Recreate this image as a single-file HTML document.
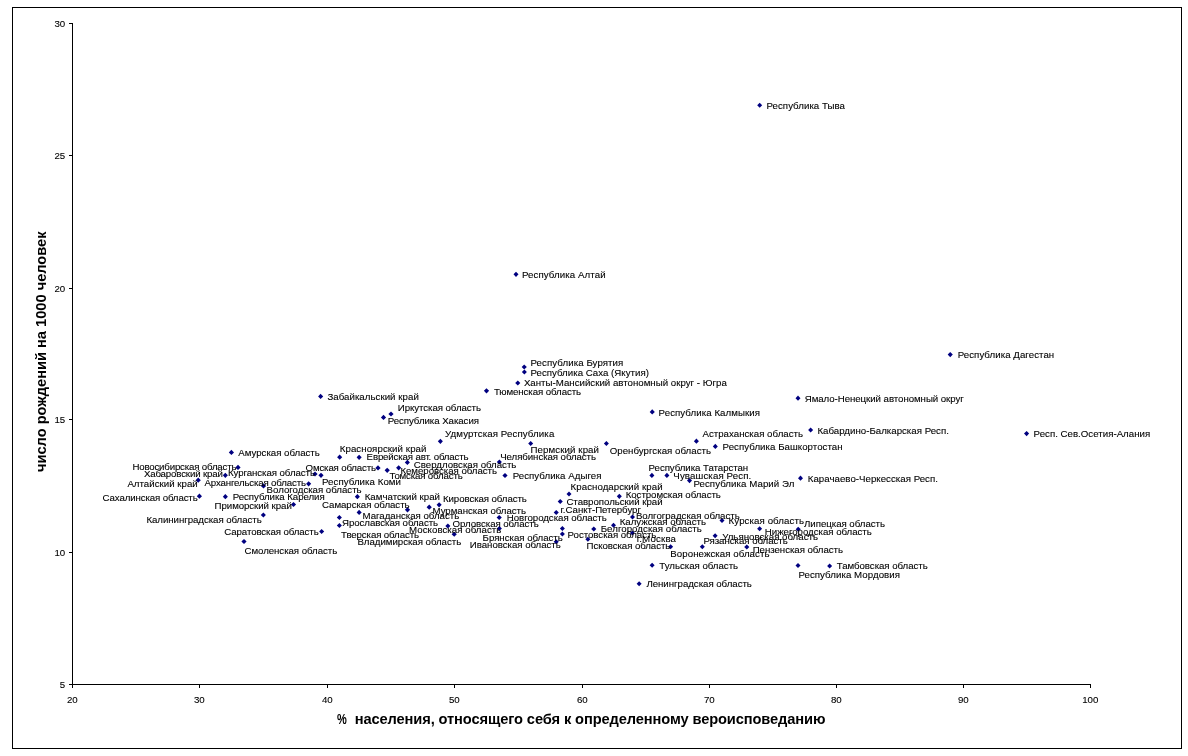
<!DOCTYPE html>
<html lang="ru"><head><meta charset="utf-8"><title>Scatter</title>
<style>
html,body{margin:0;padding:0;background:#fff;}
body{width:1188px;height:756px;overflow:hidden;}
svg{display:block;font-family:"Liberation Sans",sans-serif;}
.l{font-size:9.7px;fill:#000;stroke:#000;stroke-width:0.1px;}
.t{font-size:9.7px;fill:#000;stroke:#000;stroke-width:0.1px;}
.b{font-weight:bold;font-size:14.67px;fill:#000;}
.d{fill:#000080;}
</style></head><body>
<svg width="1188" height="756" viewBox="0 0 1188 756">
<rect x="0" y="0" width="1188" height="756" fill="#fff"/>
<rect x="12.5" y="7.5" width="1169" height="741" fill="none" stroke="#000" stroke-width="1"/>

<g stroke="#000" stroke-width="1" shape-rendering="crispEdges">
<line x1="72.5" y1="23.0" x2="72.5" y2="688.0"/>
<line x1="69.0" y1="684.5" x2="1091.0" y2="684.5"/>
<line x1="69.0" y1="23.5" x2="72.5" y2="23.5"/>
<line x1="69.0" y1="155.5" x2="72.5" y2="155.5"/>
<line x1="69.0" y1="288.5" x2="72.5" y2="288.5"/>
<line x1="69.0" y1="419.5" x2="72.5" y2="419.5"/>
<line x1="69.0" y1="552.5" x2="72.5" y2="552.5"/>
<line x1="69.0" y1="684.5" x2="72.5" y2="684.5"/>
<line x1="72.5" y1="684.5" x2="72.5" y2="688.0"/>
<line x1="199.5" y1="684.5" x2="199.5" y2="688.0"/>
<line x1="327.5" y1="684.5" x2="327.5" y2="688.0"/>
<line x1="454.5" y1="684.5" x2="454.5" y2="688.0"/>
<line x1="582.5" y1="684.5" x2="582.5" y2="688.0"/>
<line x1="709.5" y1="684.5" x2="709.5" y2="688.0"/>
<line x1="836.5" y1="684.5" x2="836.5" y2="688.0"/>
<line x1="963.5" y1="684.5" x2="963.5" y2="688.0"/>
<line x1="1090.5" y1="684.5" x2="1090.5" y2="688.0"/>
</g>
<text class="t" x="65.2" y="27" text-anchor="end">30</text>
<text class="t" x="65.2" y="159" text-anchor="end">25</text>
<text class="t" x="65.2" y="292" text-anchor="end">20</text>
<text class="t" x="65.2" y="423" text-anchor="end">15</text>
<text class="t" x="65.2" y="556" text-anchor="end">10</text>
<text class="t" x="65.2" y="688" text-anchor="end">5</text>
<text class="t" x="72.3" y="703" text-anchor="middle">20</text>
<text class="t" x="199.3" y="703" text-anchor="middle">30</text>
<text class="t" x="327.3" y="703" text-anchor="middle">40</text>
<text class="t" x="454.3" y="703" text-anchor="middle">50</text>
<text class="t" x="582.3" y="703" text-anchor="middle">60</text>
<text class="t" x="709.3" y="703" text-anchor="middle">70</text>
<text class="t" x="836.3" y="703" text-anchor="middle">80</text>
<text class="t" x="963.3" y="703" text-anchor="middle">90</text>
<text class="t" x="1090.3" y="703" text-anchor="middle">100</text>
<text class="b" transform="translate(45.5,472) rotate(-90)" textLength="240.6">число рождений на 1000 человек</text>
<text class="b" y="723.5"><tspan x="337" textLength="9.8" lengthAdjust="spacingAndGlyphs">%</tspan><tspan x="354.7" textLength="470.8">населения, относящего себя к определенному вероисповеданию</tspan></text>
<g class="d">
<path d="M759.7 102.8L762.2 105.3L759.7 107.8L757.2 105.3Z"/>
<path d="M516.0 271.8L518.5 274.3L516.0 276.9L513.5 274.3Z"/>
<path d="M524.2 364.4L526.8 367.0L524.2 369.6L521.7 367.0Z"/>
<path d="M524.4 369.4L526.9 372.0L524.4 374.6L521.9 372.0Z"/>
<path d="M517.8 380.4L520.3 383.0L517.8 385.6L515.2 383.0Z"/>
<path d="M486.5 388.2L489.1 390.8L486.5 393.4L483.9 390.8Z"/>
<path d="M320.6 393.8L323.2 396.4L320.6 398.9L318.1 396.4Z"/>
<path d="M391.0 411.4L393.6 414.0L391.0 416.6L388.4 414.0Z"/>
<path d="M383.5 414.8L386.1 417.4L383.5 419.9L380.9 417.4Z"/>
<path d="M652.2 409.3L654.8 411.9L652.2 414.4L649.7 411.9Z"/>
<path d="M798.0 395.6L800.5 398.2L798.0 400.8L795.5 398.2Z"/>
<path d="M950.2 352.1L952.8 354.6L950.2 357.2L947.7 354.6Z"/>
<path d="M1026.6 431.1L1029.1 433.6L1026.6 436.2L1024.0 433.6Z"/>
<path d="M810.6 427.4L813.1 430.0L810.6 432.6L808.1 430.0Z"/>
<path d="M440.4 438.8L442.9 441.3L440.4 443.9L437.8 441.3Z"/>
<path d="M530.7 440.9L533.2 443.5L530.7 446.1L528.2 443.5Z"/>
<path d="M606.4 440.9L608.9 443.5L606.4 446.1L603.9 443.5Z"/>
<path d="M696.4 438.6L698.9 441.2L696.4 443.8L693.9 441.2Z"/>
<path d="M715.3 443.8L717.8 446.4L715.3 448.9L712.8 446.4Z"/>
<path d="M231.4 449.8L234.0 452.4L231.4 454.9L228.8 452.4Z"/>
<path d="M339.7 454.6L342.2 457.2L339.7 459.8L337.1 457.2Z"/>
<path d="M359.1 454.8L361.7 457.3L359.1 459.9L356.6 457.3Z"/>
<path d="M407.4 459.8L409.9 462.4L407.4 464.9L404.8 462.4Z"/>
<path d="M499.4 459.4L501.9 462.0L499.4 464.6L496.8 462.0Z"/>
<path d="M238.0 464.8L240.6 467.4L238.0 469.9L235.4 467.4Z"/>
<path d="M378.0 465.3L380.6 467.9L378.0 470.4L375.4 467.9Z"/>
<path d="M398.7 465.2L401.2 467.8L398.7 470.4L396.1 467.8Z"/>
<path d="M387.2 467.8L389.8 470.3L387.2 472.9L384.6 470.3Z"/>
<path d="M225.3 472.8L227.9 475.3L225.3 477.9L222.8 475.3Z"/>
<path d="M315.0 471.4L317.6 474.0L315.0 476.6L312.4 474.0Z"/>
<path d="M321.0 472.8L323.6 475.3L321.0 477.9L318.4 475.3Z"/>
<path d="M505.0 472.9L507.6 475.5L505.0 478.1L502.4 475.5Z"/>
<path d="M651.9 472.8L654.4 475.4L651.9 477.9L649.4 475.4Z"/>
<path d="M666.9 472.8L669.4 475.4L666.9 477.9L664.4 475.4Z"/>
<path d="M800.5 475.6L803.0 478.2L800.5 480.8L798.0 478.2Z"/>
<path d="M689.5 478.1L692.0 480.6L689.5 483.2L687.0 480.6Z"/>
<path d="M198.2 477.6L200.8 480.2L198.2 482.8L195.6 480.2Z"/>
<path d="M308.6 481.2L311.2 483.8L308.6 486.4L306.1 483.8Z"/>
<path d="M263.5 483.3L266.1 485.9L263.5 488.4L260.9 485.9Z"/>
<path d="M199.4 493.6L202.0 496.2L199.4 498.8L196.8 496.2Z"/>
<path d="M225.3 494.1L227.9 496.7L225.3 499.2L222.8 496.7Z"/>
<path d="M357.4 494.1L359.9 496.7L357.4 499.2L354.8 496.7Z"/>
<path d="M569.0 491.4L571.5 494.0L569.0 496.6L566.5 494.0Z"/>
<path d="M619.3 493.8L621.8 496.3L619.3 498.9L616.8 496.3Z"/>
<path d="M560.2 498.9L562.8 501.5L560.2 504.1L557.7 501.5Z"/>
<path d="M293.5 501.9L296.1 504.5L293.5 507.1L290.9 504.5Z"/>
<path d="M439.1 502.2L441.7 504.8L439.1 507.4L436.6 504.8Z"/>
<path d="M429.2 504.6L431.8 507.2L429.2 509.8L426.6 507.2Z"/>
<path d="M407.5 507.2L410.1 509.8L407.5 512.4L404.9 509.8Z"/>
<path d="M359.1 509.8L361.7 512.4L359.1 514.9L356.6 512.4Z"/>
<path d="M556.2 510.1L558.8 512.6L556.2 515.1L553.7 512.6Z"/>
<path d="M263.4 512.5L265.9 515.0L263.4 517.5L260.8 515.0Z"/>
<path d="M339.4 514.9L341.9 517.4L339.4 519.9L336.8 517.4Z"/>
<path d="M499.2 515.0L501.8 517.5L499.2 520.0L496.6 517.5Z"/>
<path d="M632.5 514.5L635.0 517.0L632.5 519.5L630.0 517.0Z"/>
<path d="M722.0 518.0L724.5 520.5L722.0 523.0L719.5 520.5Z"/>
<path d="M613.5 522.8L616.0 525.3L613.5 527.8L611.0 525.3Z"/>
<path d="M339.4 522.9L341.9 525.4L339.4 527.9L336.8 525.4Z"/>
<path d="M447.9 523.4L450.4 525.9L447.9 528.4L445.3 525.9Z"/>
<path d="M499.3 525.9L501.9 528.4L499.3 530.9L496.8 528.4Z"/>
<path d="M562.4 526.1L564.9 528.6L562.4 531.1L559.9 528.6Z"/>
<path d="M593.8 526.4L596.3 528.9L593.8 531.4L591.2 528.9Z"/>
<path d="M759.6 526.2L762.1 528.7L759.6 531.2L757.1 528.7Z"/>
<path d="M798.2 526.8L800.8 529.3L798.2 531.8L795.7 529.3Z"/>
<path d="M321.6 528.9L324.2 531.4L321.6 533.9L319.1 531.4Z"/>
<path d="M454.2 531.8L456.8 534.3L454.2 536.8L451.6 534.3Z"/>
<path d="M562.4 531.6L564.9 534.1L562.4 536.6L559.9 534.1Z"/>
<path d="M632.4 530.5L634.9 533.0L632.4 535.5L629.9 533.0Z"/>
<path d="M715.1 533.2L717.6 535.8L715.1 538.3L712.6 535.8Z"/>
<path d="M587.9 536.8L590.4 539.3L587.9 541.8L585.4 539.3Z"/>
<path d="M244.0 539.0L246.6 541.5L244.0 544.0L241.4 541.5Z"/>
<path d="M556.2 539.2L558.8 541.7L556.2 544.2L553.7 541.7Z"/>
<path d="M670.6 544.2L673.1 546.8L670.6 549.3L668.1 546.8Z"/>
<path d="M702.3 544.2L704.8 546.8L702.3 549.3L699.8 546.8Z"/>
<path d="M746.8 544.4L749.3 546.9L746.8 549.4L744.2 546.9Z"/>
<path d="M652.1 562.8L654.6 565.3L652.1 567.8L649.6 565.3Z"/>
<path d="M798.0 563.0L800.5 565.5L798.0 568.0L795.5 565.5Z"/>
<path d="M829.6 563.4L832.1 565.9L829.6 568.4L827.1 565.9Z"/>
<path d="M639.1 581.2L641.6 583.7L639.1 586.2L636.6 583.7Z"/>
</g>
<g class="l">
<text x="766.5" y="109" textLength="78.5">Республика Тыва</text>
<text x="522.0" y="278" textLength="83.6">Республика Алтай</text>
<text x="530.5" y="366" textLength="92.8">Республика Бурятия</text>
<text x="530.5" y="376" textLength="118.4">Республика Саха (Якутия)</text>
<text x="523.9" y="386" textLength="202.9">Ханты-Мансийский автономный округ - Югра</text>
<text x="493.9" y="395" textLength="87.2">Тюменская область</text>
<text x="327.4" y="400" textLength="91.4">Забайкальский край</text>
<text x="397.8" y="411" textLength="83.2">Иркутская область</text>
<text x="387.7" y="424" textLength="91.3">Республика Хакасия</text>
<text x="658.6" y="416" textLength="101.4">Республика Калмыкия</text>
<text x="804.7" y="402" textLength="159.1">Ямало-Ненецкий автономный округ</text>
<text x="957.7" y="358" textLength="96.5">Республика Дагестан</text>
<text x="1033.6" y="437" textLength="116.6">Респ. Сев.Осетия-Алания</text>
<text x="817.4" y="434" textLength="131.5">Кабардино-Балкарская Респ.</text>
<text x="445.0" y="437" textLength="109.3">Удмуртская Республика</text>
<text x="530.5" y="453" textLength="68.5">Пермский край</text>
<text x="609.7" y="454" textLength="101.3">Оренбургская область</text>
<text x="702.5" y="437" textLength="100.5">Астраханская область</text>
<text x="722.6" y="450" textLength="120.0">Республика Башкортостан</text>
<text x="238.3" y="456" textLength="81.5">Амурская область</text>
<text x="339.7" y="452" textLength="86.8">Красноярский край</text>
<text x="366.6" y="460" textLength="102.0">Еврейская авт. область</text>
<text x="413.8" y="468" textLength="102.6">Свердловская область</text>
<text x="500.2" y="460" textLength="95.8">Челябинская область</text>
<text x="132.4" y="470" textLength="104.1">Новосибирская область</text>
<text x="305.6" y="471" textLength="70.4">Омская область</text>
<text x="400.4" y="474" textLength="96.6">Кемеровская область</text>
<text x="389.4" y="479" textLength="73.3">Томская область</text>
<text x="143.9" y="477" textLength="79.1">Хабаровский край</text>
<text x="227.9" y="476" textLength="87.1">Курганская область</text>
<text x="322.0" y="485" textLength="79.0">Республика Коми</text>
<text x="512.7" y="479" textLength="88.7">Республика Адыгея</text>
<text x="648.6" y="471" textLength="99.6">Республика Татарстан</text>
<text x="673.3" y="479" textLength="78.0">Чувашская Респ.</text>
<text x="807.8" y="482" textLength="130.1">Карачаево-Черкесская Респ.</text>
<text x="693.4" y="487" textLength="101.0">Республика Марий Эл</text>
<text x="127.4" y="487" textLength="70.3">Алтайский край</text>
<text x="204.5" y="486" textLength="101.5">Архангельская область</text>
<text x="266.6" y="493" textLength="95.0">Вологодская область</text>
<text x="102.6" y="501" textLength="95.1">Сахалинская область</text>
<text x="232.8" y="500" textLength="91.9">Республика Карелия</text>
<text x="364.7" y="500" textLength="75.3">Камчатский край</text>
<text x="443.0" y="502" textLength="83.8">Кировская область</text>
<text x="570.6" y="490" textLength="92.0">Краснодарский край</text>
<text x="625.7" y="498" textLength="95.2">Костромская область</text>
<text x="566.4" y="505" textLength="96.2">Ставропольский край</text>
<text x="214.6" y="509" textLength="77.2">Приморский край</text>
<text x="322.0" y="508" textLength="87.6">Самарская область</text>
<text x="432.5" y="514" textLength="93.5">Мурманская область</text>
<text x="362.5" y="519" textLength="96.7">Магаданская область</text>
<text x="560.5" y="513" textLength="80.5">г.Санкт-Петербург</text>
<text x="146.4" y="523" textLength="115.3">Калининградская область</text>
<text x="342.0" y="526" textLength="96.1">Ярославская область</text>
<text x="506.8" y="521" textLength="100.0">Новгородская область</text>
<text x="635.9" y="519" textLength="103.8">Волгоградская область</text>
<text x="728.6" y="524" textLength="75.4">Курская область</text>
<text x="619.7" y="525" textLength="86.3">Калужская область</text>
<text x="341.0" y="538" textLength="78.0">Тверская область</text>
<text x="452.6" y="527" textLength="86.1">Орловская область</text>
<text x="409.1" y="533" textLength="92.2">Московская область</text>
<text x="600.7" y="532" textLength="101.2">Белгородская область</text>
<text x="764.8" y="535" textLength="107.0">Нижегородская область</text>
<text x="804.0" y="527" textLength="81.0">Липецкая область</text>
<text x="224.3" y="535" textLength="94.4">Саратовская область</text>
<text x="357.4" y="545" textLength="103.8">Владимирская область</text>
<text x="567.6" y="538" textLength="88.8">Ростовская область</text>
<text x="636.7" y="542" textLength="39.3">г.Москва</text>
<text x="722.2" y="540" textLength="95.8">Ульяновская область</text>
<text x="586.6" y="549" textLength="83.7">Псковская область</text>
<text x="244.5" y="554" textLength="92.7">Смоленская область</text>
<text x="469.8" y="548" textLength="91.0">Ивановская область</text>
<text x="482.6" y="541" textLength="80.2">Брянская область</text>
<text x="703.4" y="544" textLength="84.4">Рязанская область</text>
<text x="670.3" y="557" textLength="99.2">Воронежская область</text>
<text x="752.7" y="553" textLength="90.3">Пензенская область</text>
<text x="659.3" y="569" textLength="78.8">Тульская область</text>
<text x="798.4" y="578" textLength="101.6">Республика Мордовия</text>
<text x="836.8" y="569" textLength="90.9">Тамбовская область</text>
<text x="646.4" y="587" textLength="105.5">Ленинградская область</text>
</g>
</svg></body></html>
